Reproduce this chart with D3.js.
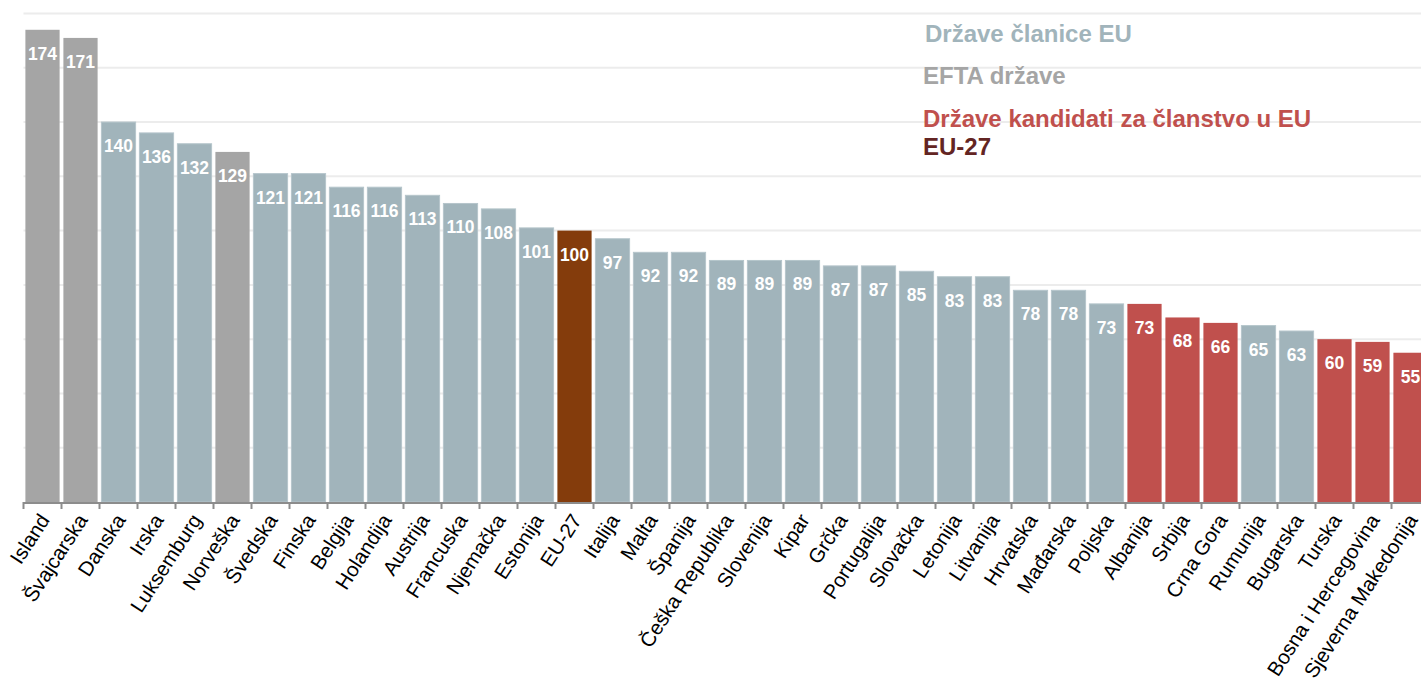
<!DOCTYPE html>
<html>
<head>
<meta charset="utf-8">
<script src="https://cdn.jsdelivr.net/npm/d3@7/dist/d3.min.js"></script>
<style>
  body { margin: 0; background: #fff; }
  svg { display: block; font-family: "Liberation Sans", Arial, sans-serif; }
</style>
</head>
<body>
<svg id="chart" width="1421" height="686"></svg>
<script>
// countries, in the order drawn
var countries = ["Island", "Švajcarska", "Danska", "Irska", "Luksemburg", "Norveška", "Švedska",
  "Finska", "Belgija", "Holandija", "Austrija", "Francuska", "Njemačka", "Estonija", "EU-27",
  "Italija", "Malta", "Španija", "Češka Republika", "Slovenija", "Kipar", "Grčka", "Portugalija",
  "Slovačka", "Letonija", "Litvanija", "Hrvatska", "Mađarska", "Poljska", "Albanija", "Srbija",
  "Crna Gora", "Rumunija", "Bugarska", "Turska", "Bosna i Hercegovina", "Sjeverna Makedonija"];

var values = [174, 171, 140, 136, 132, 129, 121, 121, 116, 116, 113, 110, 108, 101, 100,
  97, 92, 92, 89, 89, 89, 87, 87, 85, 83, 83, 78, 78, 73, 73, 68,
  66, 65, 63, 60, 59, 55];

// group of each country: eu, efta, cand, avg
var groups = ["efta", "efta", "eu", "eu", "eu", "efta", "eu", "eu", "eu", "eu", "eu", "eu", "eu", "eu", "avg",
  "eu", "eu", "eu", "eu", "eu", "eu", "eu", "eu", "eu", "eu", "eu", "eu", "eu", "eu", "cand", "cand",
  "cand", "eu", "eu", "cand", "cand", "cand"];

var gridTicks = [0, 20, 40, 60, 80, 100, 120, 140, 160, 180];

var legendNames = ["Države članice EU", "EFTA države", "Države kandidati za članstvo u EU", "EU-27"];
var legendKeys = ["eu", "efta", "cand", "avgText"];

var colors = {
  eu: "#a1b4bb",
  efta: "#a5a5a5",
  cand: "#c0504d",
  avg: "#843c0c",
  avgText: "#632523"
};

var svg = d3.select("#chart");
var x0 = 23.5, step = 38, baseY = 502;

var x = d3.scaleBand()
  .domain(countries)
  .range([x0, x0 + step * countries.length])
  .paddingInner(0.1)
  .paddingOuter(0.05);

var y = d3.scaleLinear().domain([0, 180]).range([baseY, 13.5]);

// gridlines
svg.append("g")
  .selectAll("line")
  .data(gridTicks.slice(1))
  .enter().append("line")
  .attr("x1", x0)
  .attr("x2", 1421)
  .attr("y1", function(d) { return y(d); })
  .attr("y2", function(d) { return y(d); })
  .attr("stroke", "#ececec")
  .attr("stroke-width", 2);

// legend
svg.append("g")
  .selectAll("text")
  .data(legendNames)
  .enter().append("text")
  .attr("x", function(d, i) { return i == 0 ? 925 : 923; })
  .attr("y", function(d, i) { return [42, 84, 127, 155][i]; })
  .attr("fill", function(d, i) { return colors[legendKeys[i]]; })
  .style("font-size", "24px")
  .style("font-weight", "bold")
  .text(function(d) { return d; });

// bars
svg.append("g")
  .selectAll("rect")
  .data(values)
  .enter().append("rect")
  .attr("x", function(d, i) { return x(countries[i]); })
  .attr("width", x.bandwidth())
  .attr("y", function(d) { return y(d); })
  .attr("height", function(d) { return baseY - y(d); })
  .attr("fill", function(d, i) { return colors[groups[i]]; })
  .attr("stroke", function(d, i) { return groups[i] == "eu" ? "#b5c5cb" : "none"; })
  .attr("stroke-width", 1);

// value labels
svg.append("g")
  .selectAll("text")
  .data(values)
  .enter().append("text")
  .attr("x", function(d, i) { return x(countries[i]) + x.bandwidth() / 2; })
  .attr("y", function(d) { return y(d) + 30; })
  .attr("text-anchor", "middle")
  .attr("fill", "#fff")
  .style("font-size", "17.5px")
  .style("font-weight", "bold")
  .text(function(d) { return d; });

// x axis line and ticks at band edges
var axis = svg.append("g");
axis.append("line")
  .attr("x1", x0).attr("x2", 1421)
  .attr("y1", baseY + 1).attr("y2", baseY + 1)
  .attr("stroke", "#8c8c8c").attr("stroke-width", 2);

axis.selectAll(".tick")
  .data(d3.range(countries.length + 1))
  .enter().append("line")
  .attr("class", "tick")
  .attr("x1", function(i) { return x0 + i * step; })
  .attr("x2", function(i) { return x0 + i * step; })
  .attr("y1", baseY)
  .attr("y2", baseY + 7)
  .attr("stroke", "#8c8c8c").attr("stroke-width", 2);

axis.selectAll("text")
  .data(countries)
  .enter().append("text")
  .attr("transform", function(d) {
    return "translate(" + (x(d) + x.bandwidth() / 2 + 2) + "," + (baseY + 14) + ") rotate(-57)";
  })
  .attr("text-anchor", "end")
  .attr("dy", "0.35em")
  .attr("fill", "#000")
  .style("font-size", "20.4px")
  .text(function(d) { return d; });
</script>
</body>
</html>
